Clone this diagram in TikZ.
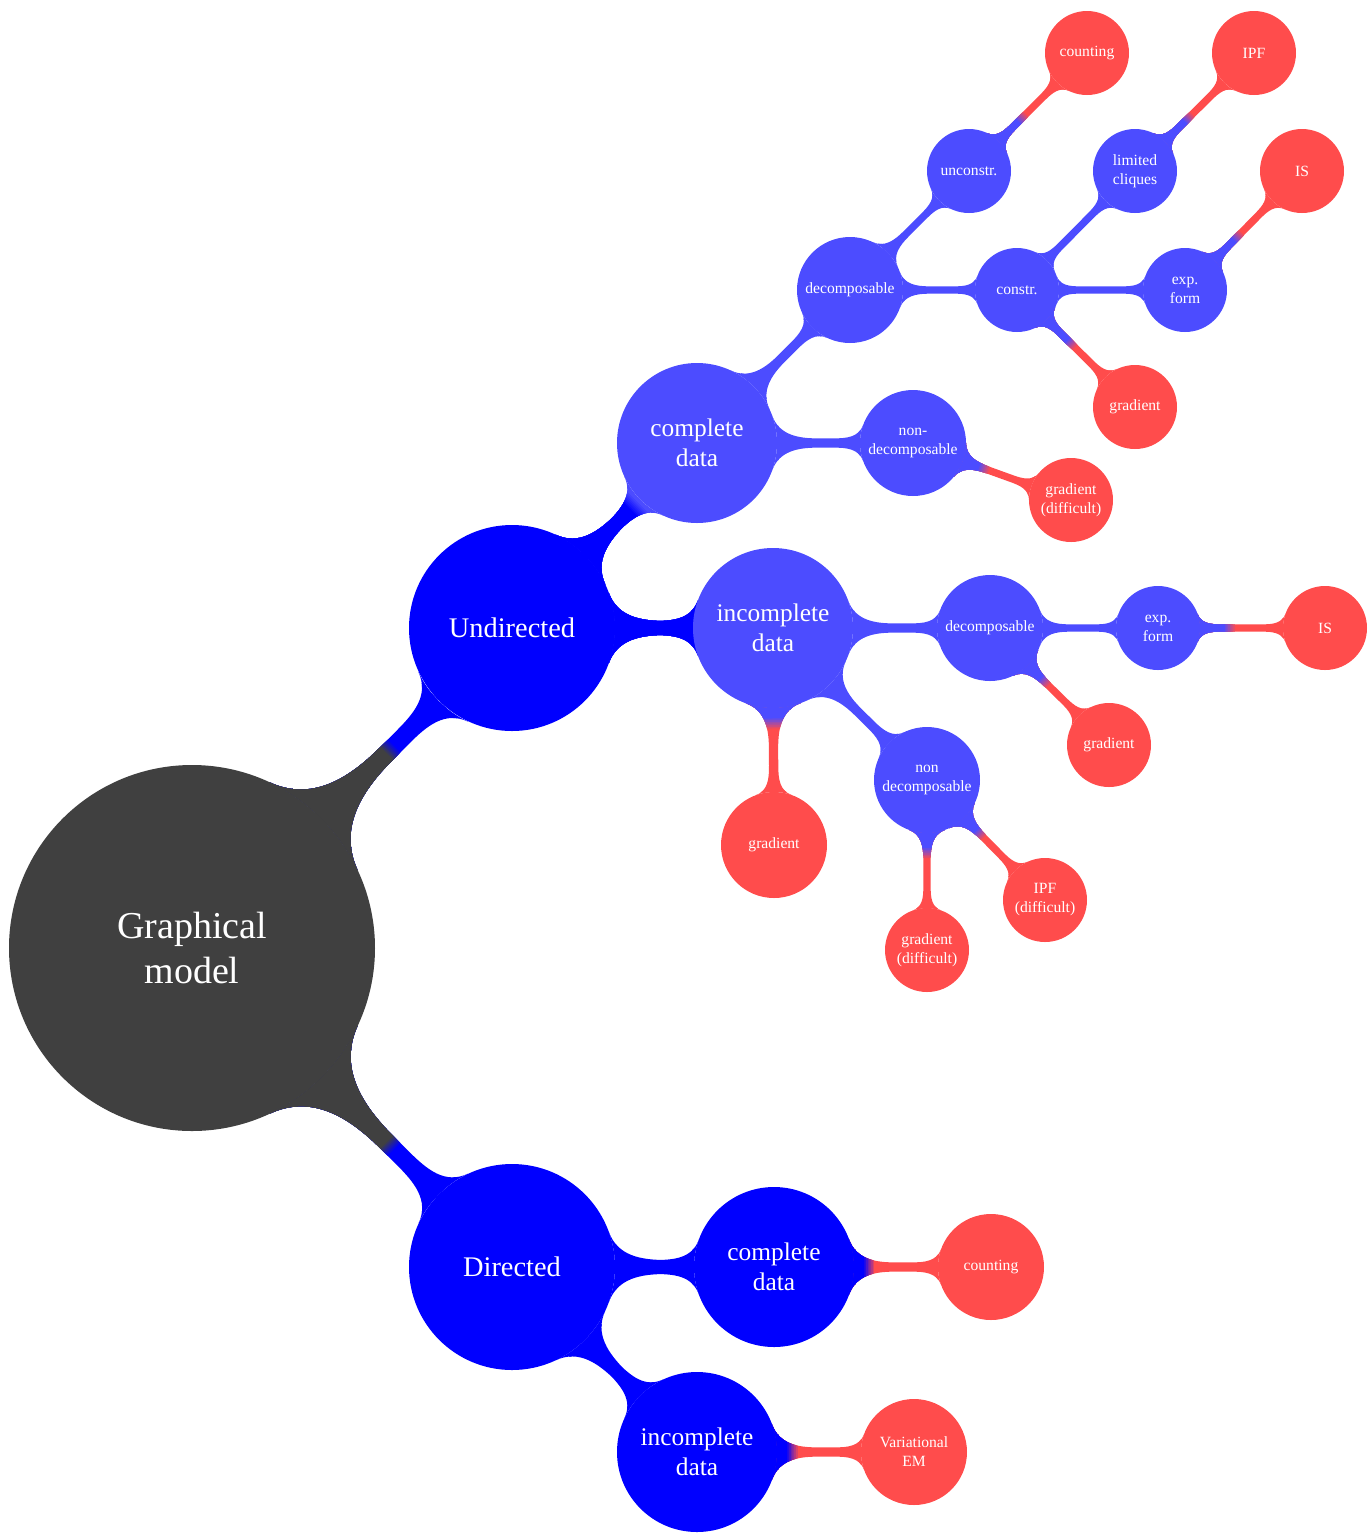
\documentclass[tikz,border=0pt]{standalone}
\usepackage{fontspec}
\setmainfont{Liberation Serif}
\usetikzlibrary{mindmap,backgrounds,calc}
\colorlet{cg}{black!75}
\colorlet{cb}{blue!70}
\colorlet{cr}{red!70}
\tikzset{
  cpt/.style={circle, inner sep=0pt, outer sep=0pt, text=white, align=center, draw=none},
  lvroot/.style={cpt, fill=cg, minimum size=183pt, font=\fontsize{19}{22.5}\selectfont},
  lvone/.style={cpt, fill=blue, minimum size=103pt, font=\fontsize{14.2}{17}\selectfont},
  lvtwo/.style={cpt, minimum size=80pt, font=\fontsize{12.7}{15}\selectfont},
  lvthree/.style={cpt, minimum size=53pt, font=\fontsize{7.8}{9.5}\selectfont},
  lvfour/.style={cpt, minimum size=42pt, font=\fontsize{7.8}{9.5}\selectfont},
  fb/.style={fill=cb},
  fr/.style={fill=cr},
  ff/.style={fill=blue},
}
% bar in a single colour: from, to, colour, width
\newcommand\mmsame[4]{\path[line width=#4] (#1) to[circle connection bar switch color=from (#3) to (#3)] (#2);}
% bar switching colour: from, to, colour1, colour2, width, fraction
\newcommand\mmconn[6]{%
  \mmsame{#1}{#2}{#4}{#5}%
  \foreach \k in {1,...,7}{%
    \pgfmathsetmacro\mmp{100*\k/7}%
    \pgfmathsetmacro\mmoff{2.5*(1-2*(\k-1)/6)}%
    \begin{scope}
      \coordinate (mmsw) at ($(#1)!#6!(#2)$);
      \coordinate (mmsm) at ($(mmsw)!\mmoff pt!(#2)$);
      \clip ($(mmsm)!1000pt!90:(#2)$) -- ($(mmsm)!1000pt!-90:(#2)$) -- ($(mmsm)!-1000pt!(#2)$) -- cycle;
      \mmsame{#1}{#2}{#3!\mmp!#4}{#5}
    \end{scope}
  }%
}
\begin{document}
\begin{tikzpicture}[x=0.5pt,y=-0.5pt]
\useasboundingbox (0,0) rectangle (1367,1533);
% nodes
\node[lvroot] (root) at (192,948) {Graphical\\model};
\node[lvone] (und) at (512,628) {Undirected};
\node[lvone] (dir) at (512,1267) {Directed};
\node[lvtwo,fb] (ucd) at (697,443) {complete\\data};
\node[lvtwo,fb] (uid) at (773,628) {incomplete\\data};
\node[lvtwo,ff] (dcd) at (774,1267) {complete\\data};
\node[lvtwo,ff] (did) at (697,1452) {incomplete\\data};
\node[lvthree,fb] (udec) at (850,290) {decomposable};
\node[lvthree,fb] (unondec) at (913,443) {non-\\decomposable};
\node[lvthree,fb] (idec) at (990,628) {decomposable};
\node[lvthree,fr] (igrad) at (774,845) {gradient};
\node[lvthree,fb] (inondec) at (927,780) {non\\decomposable};
\node[lvthree,fr] (dcount) at (991,1267) {counting};
\node[lvthree,fr] (dvem) at (914,1452) {Variational\\EM};
\node[lvfour,fb] (unconstr) at (969,171) {unconstr.};
\node[lvfour,fb] (constr) at (1017,290) {constr.};
\node[lvfour,fr] (ugd) at (1071,500) {gradient\\(difficult)};
\node[lvfour,fb] (iexp) at (1158,628) {exp.\\form};
\node[lvfour,fr] (igrad2) at (1109,745) {gradient};
\node[lvfour,fr] (igd) at (927,950) {gradient\\(difficult)};
\node[lvfour,fr] (iipf) at (1045,900) {IPF\\(difficult)};
\node[lvfour,fr] (ucount) at (1087,53) {counting};
\node[lvfour,fb] (ulim) at (1135,171) {limited\\cliques};
\node[lvfour,fb] (uexp) at (1185,290) {exp.\\form};
\node[lvfour,fr] (ugrad) at (1135,407) {gradient};
\node[lvfour,fr] (uipf) at (1254,53) {IPF};
\node[lvfour,fr] (uis) at (1302,171) {IS};
\node[lvfour,fr] (iis) at (1325,628) {IS};
% connections
\begin{pgfonlayer}{background}
\mmconn{root}{und}{cg}{blue}{8pt}{0.62}
\mmconn{root}{dir}{cg}{blue}{8pt}{0.62}
\mmconn{und}{ucd}{blue}{cb}{7.5pt}{0.66}
\mmconn{und}{uid}{blue}{cb}{7.5pt}{0.73}
\mmsame{dir}{dcd}{blue}{7.5pt}
\mmsame{dir}{did}{blue}{7.5pt}
\mmsame{ucd}{udec}{cb}{5.5pt}
\mmsame{ucd}{unondec}{cb}{5.5pt}
\mmsame{uid}{idec}{cb}{5.5pt}
\mmconn{uid}{igrad}{cb}{cr}{5.5pt}{0.44}
\mmsame{uid}{inondec}{cb}{5.5pt}
\mmconn{dcd}{dcount}{blue}{cr}{5.5pt}{0.44}
\mmconn{did}{dvem}{blue}{cr}{5.5pt}{0.44}
\mmsame{udec}{unconstr}{cb}{4pt}
\mmsame{udec}{constr}{cb}{4pt}
\mmconn{unondec}{ugd}{cb}{cr}{4pt}{0.45}
\mmsame{idec}{iexp}{cb}{4pt}
\mmconn{idec}{igrad2}{cb}{cr}{4pt}{0.46}
\mmconn{inondec}{igd}{cb}{cr}{4pt}{0.43}
\mmconn{inondec}{iipf}{cb}{cr}{4pt}{0.45}
\mmconn{unconstr}{ucount}{cb}{cr}{3.5pt}{0.45}
\mmsame{constr}{ulim}{cb}{3.5pt}
\mmsame{constr}{uexp}{cb}{3.5pt}
\mmconn{constr}{ugrad}{cb}{cr}{3.5pt}{0.46}
\mmconn{ulim}{uipf}{cb}{cr}{3.5pt}{0.45}
\mmconn{uexp}{uis}{cb}{cr}{3.5pt}{0.45}
\mmconn{iexp}{iis}{cb}{cr}{3.5pt}{0.43}
\end{pgfonlayer}
\end{tikzpicture}
\end{document}
